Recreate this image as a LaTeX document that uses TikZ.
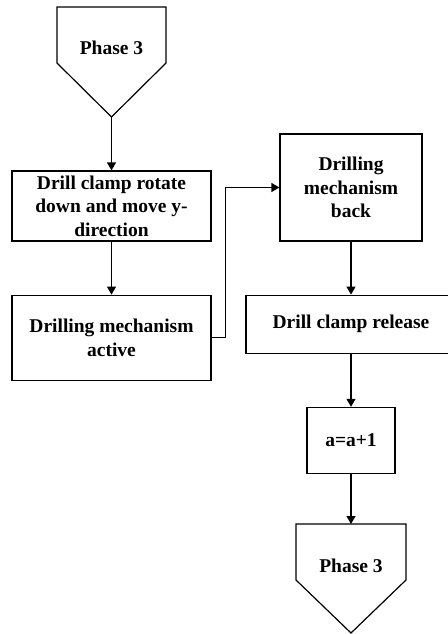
\documentclass[tikz,border=0pt]{standalone}
\usepackage{fontspec}
\setmainfont{Liberation Serif}
\usetikzlibrary{arrows.meta,positioning}

\begin{document}
\begin{tikzpicture}[
  x=1pt, y=-1pt,
  font=\fontsize{19.5}{23.5}\selectfont\bfseries,
  every node/.style={align=center},
  stepbox/.style={
    draw, line width=1.2pt, inner sep=2pt
  },
  outline/.style={line width=1.2pt},
  arr/.style={-{Triangle[length=8pt,width=9pt]}, line width=1.2pt}
]
\useasboundingbox (0,0) rectangle (447,634);

% start connector
\draw[outline] (57,7) -- (166,7) -- (166,63) -- (111.5,117) -- (57,63) -- cycle;
\node (start) at (111.5,48) {Phase 3};
\coordinate (starttip) at (111.5,117);

% left column
\node[stepbox, minimum width=199pt, minimum height=70pt] (rotate) at (111.5,206)
  {Drill clamp rotate\\down and move y-\\direction};
\node[stepbox, minimum width=199pt, minimum height=85pt, below=53pt of rotate] (active)
  {Drilling mechanism\\active};

% right column
\node[stepbox, minimum width=142pt, minimum height=107pt] (back) at (351,187.5)
  {Drilling\\mechanism\\back};
\node[stepbox, minimum width=210pt, minimum height=58pt, below=53pt of back] (release)
  {Drill clamp release};
\node[stepbox, minimum width=88pt, minimum height=66pt, below=53pt of release] (count)
  {a=a+1};

% end connector
\draw[outline] (296,524) -- (406,524) -- (406,580) -- (351,633) -- (296,580) -- cycle;
\node (finish) at (351,566) {Phase 3};
\coordinate (finishtop) at (351,524);

\draw[arr] (starttip) -- (rotate);
\draw[arr] (rotate) -- (active);
\draw[arr] (active.east) -- ++(14,0) |- (back.west);
\draw[arr] (back) -- (release);
\draw[arr] (release) -- (count);
\draw[arr] (count) -- (finishtop);

\end{tikzpicture}
\end{document}
